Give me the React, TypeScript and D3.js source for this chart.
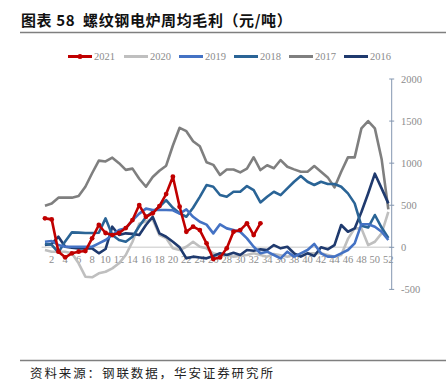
import React from "react";
import * as d3 from "d3";

const weeks: number[] = Array.from({ length: 52 }, (_, i) => i + 1);
const tickWeeks: number[] = [2,4,6,8,10,12,14,16,18,20,22,24,26,28,30,32,34,36,38,40,42,44,46,48,50,52];
const yTicks: number[] = [-500, 0, 500, 1000, 1500, 2000];

const s2021: number[] = [344,332,-52,-119,-71,-52,-44,107,265,170,146,170,229,324,502,363,404,490,633,839,482,185,245,205,47,-140,-120,-12,185,205,285,146,285];
const s2020: number[] = [-32,-52,-52,-52,-71,-190,-349,-356,-309,-290,-250,-190,-91,66,280,310,330,146,110,-12,-32,7,66,7,-12,-71,-91,-91,-111,-100,-91,-71,-90,-111,-80,-95,-111,-91,-80,-71,-71,-71,-91,-111,-91,100,225,225,27,66,166,420];
const s2019: number[] = [66,75,27,7,7,7,7,7,47,87,146,205,225,320,400,460,443,443,443,440,400,450,363,304,270,166,273,225,205,185,107,7,-71,-52,-91,-131,-52,-111,-71,-32,40,-71,-111,-111,-71,-32,47,275,275,245,185,87];
const s2018: number[] = [40,30,-60,70,178,175,170,170,173,344,146,87,66,126,250,360,423,480,560,470,404,363,470,600,740,720,621,601,660,660,728,680,534,601,660,621,700,779,847,779,740,779,752,752,720,641,522,255,235,384,235,110];
const s2017: number[] = [494,520,590,590,590,610,720,880,1030,1020,1065,1000,920,935,815,720,835,910,970,1210,1420,1380,1260,1200,1010,980,860,925,925,890,935,1070,918,975,940,1037,957,926,898,898,966,898,831,712,898,1069,1069,1413,1500,1413,1050,450];
const s2016: number[] = [27,40,126,7,-5,-12,-12,-12,-71,-20,245,146,166,160,146,265,363,166,126,66,0,-131,-111,-120,-131,-103,-71,-91,-64,-91,-32,-40,-24,-32,27,-12,7,-71,-111,-71,-103,0,-24,27,265,185,225,420,640,875,700,522];

const seriesNames: string[] = ["2021", "2020", "2019", "2018", "2017", "2016"];
const seriesColors: string[] = ["#c00000", "#bfbfbf", "#4472c4", "#2a6496", "#7f7f7f", "#1f3a6e"];
const seriesData: number[][] = [s2021, s2020, s2019, s2018, s2017, s2016];
const drawOrder: number[] = [4, 1, 5, 3, 2, 0];

const W = 446;
const H = 387;

export default function App() {
  const x = d3.scalePoint<number>().domain(weeks).range([41.6, 391.7]).padding(0.5);
  const y = d3.scaleLinear().domain([-500, 2000]).range([289.4, 79]);
  const line = d3
    .line<number>()
    .x((_, i) => x(i + 1) as number)
    .y((d) => y(d));

  const axisX = 391.7;
  const serif = "'Liberation Serif', 'DejaVu Serif', serif";
  const cjk = "'Noto Sans CJK SC', 'Noto Sans', sans-serif";
  const legendX = [68, 124, 179, 234, 289, 344];

  return (
    <svg width={W} height={H} style={{ position: "absolute", left: 0, top: 0, background: "#fff" }}>
      <rect x={0} y={0} width={W} height={H} fill="#fff" />
      <text x={21} y={26} fontFamily={cjk} fontWeight={700} fontSize={15} fill="#111" letterSpacing={0.6} style={{ whiteSpace: "pre" }}>
        {"图表 58  螺纹钢电炉周均毛利（元/吨）"}
      </text>
      <line x1={20} x2={W} y1={32.5} y2={32.5} stroke="#7f7f7f" strokeWidth={1.5} />

      {seriesNames.map((n, i) => (
        <g key={n}>
          <line x1={legendX[i]} x2={legendX[i] + 24} y1={56.5} y2={56.5} stroke={seriesColors[i]} strokeWidth={3} />
          {i === 0 && <circle cx={legendX[i] + 12} cy={56.5} r={2.5} fill={seriesColors[i]} />}
          <text x={legendX[i] + 26} y={60} fontFamily={serif} fontSize={10.5} fill="#8c8c8c">
            {n}
          </text>
        </g>
      ))}

      <line x1={41.6} x2={axisX} y1={y(0)} y2={y(0)} stroke="#d9d9d9" strokeWidth={1.5} />

      {tickWeeks.map((w) => (
        <text key={w} x={x(w) as number} y={263} textAnchor="middle" fontFamily={serif} fontSize={10.5} fill="#8c8c8c">
          {w}
        </text>
      ))}

      {drawOrder.map((i) => (
        <path
          key={seriesNames[i]}
          d={line(seriesData[i]) || ""}
          fill="none"
          stroke={seriesColors[i]}
          strokeWidth={2.6}
          strokeLinejoin="round"
        />
      ))}
      {s2021.map((v, i) => (
        <circle key={i} cx={x(i + 1) as number} cy={y(v)} r={2.4} fill="#c00000" />
      ))}

      <line x1={axisX} x2={axisX} y1={y(2000)} y2={y(-500)} stroke="#8497b0" strokeWidth={1} />
      {yTicks.map((t) => (
        <g key={t}>
          <line x1={axisX - 2.5} x2={axisX + 2.5} y1={y(t)} y2={y(t)} stroke="#8497b0" strokeWidth={1} />
          <text x={401} y={y(t) + 3.5} fontFamily={serif} fontSize={10.5} fill="#8c8c8c">
            {t}
          </text>
        </g>
      ))}

      <line x1={20} x2={W} y1={360.5} y2={360.5} stroke="#7f7f7f" strokeWidth={1.5} />
      <text x={30} y={378} fontFamily={cjk} fontSize={12.5} fill="#222" letterSpacing={1.9}>
        资料来源：钢联数据，华安证券研究所
      </text>
    </svg>
  );
}
